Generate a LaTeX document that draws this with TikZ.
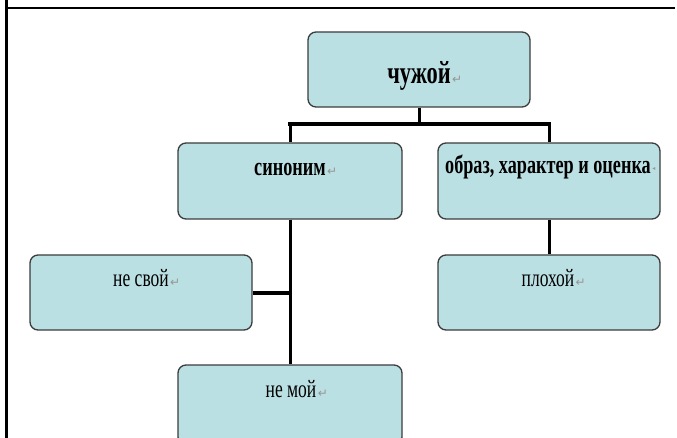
\documentclass[tikz,border=0pt]{standalone}
\usepackage{fontspec}
\newfontfamily\rusf[FakeStretch=0.7]{Liberation Serif}
\newfontfamily\markf{DejaVu Sans}
\definecolor{boxfill}{RGB}{187,224,227}
\definecolor{boxline}{RGB}{60,60,60}
\definecolor{markgray}{RGB}{150,150,150}

\tikzset{
  blk/.style={draw=boxline, line width=1.3pt, fill=boxfill, rounded corners=8pt,
    minimum width=222pt, minimum height=75pt, inner sep=0pt},
  lbl/.style={anchor=base, inner sep=0pt},
  bigbold/.style={font=\rusf\bfseries\fontsize{32}{32}\selectfont},
  midbold/.style={font=\rusf\bfseries\fontsize{26}{26}\selectfont},
  midplain/.style={font=\rusf\fontsize{25}{25}\selectfont},
  pm/.style={anchor=base west, inner sep=0pt, xshift=1pt, text=markgray,
    font=\markf\fontsize{12}{12}\selectfont},
  vlink/.style={line width=3pt},
  hlink/.style={line width=4pt, line cap=rect},
  frame/.style={line width=2.4pt}
}

\begin{document}
\begin{tikzpicture}[x=1pt, y=-1pt]
  \useasboundingbox (0,0) rectangle (677,438);
  \clip (0,0) rectangle (677,438);

  % page frame
  \draw[frame] (6.5,0) -- (6.5,438);
  \draw[frame] (6.5,8.3) -- (675,8.3);

  % boxes
  \node[blk] (top)  at (419,69.5) {};
  \node[blk, minimum width=224pt, minimum height=76pt] (syn) at (290,181) {};
  \node[blk, minimum height=76pt] (obr) at (549,181) {};
  \node[blk] (svoi) at (141,292.5) {};
  \node[blk] (ploh) at (549,292.5) {};
  \node[blk, minimum width=224pt, minimum height=80pt] (moi) at (290,405) {};

  % connectors
  \coordinate (bus) at (419,124);
  \draw[vlink] (top.south) -- (bus);
  \draw[hlink] (bus -| syn.north) -- (bus -| obr.north);
  \draw[vlink] (syn.north) -- (bus -| syn.north);
  \draw[vlink] (obr.north) -- (bus -| obr.north);
  \draw[vlink] (syn.south) -- (moi.north);
  \draw[hlink, line cap=butt] (svoi.east) -- (svoi.east -| syn.south);
  \draw[vlink] (obr.south) -- (ploh.north);

  % labels
  \node[lbl, bigbold] (t0) at (419,84) {чужой};
  \node[pm] at (t0.base east) {↵};
  \node[lbl, midbold] (t1) at (290,176) {синоним};
  \node[pm] at (t1.base east) {↵};
  \node[lbl, midbold] (t2) at (548,174) {образ, характер и оценка};
  \node[pm, font=\markf\fontsize{6}{6}\selectfont, yshift=3pt] at (t2.base east) {◂};
  \node[lbl, midplain] (t3) at (141,287) {не свой};
  \node[pm] at (t3.base east) {↵};
  \node[lbl, midplain] (t4) at (548,287) {плохой};
  \node[pm] at (t4.base east) {↵};
  \node[lbl, midplain] (t5) at (291,397) {не мой};
  \node[pm] at (t5.base east) {↵};
\end{tikzpicture}
\end{document}
